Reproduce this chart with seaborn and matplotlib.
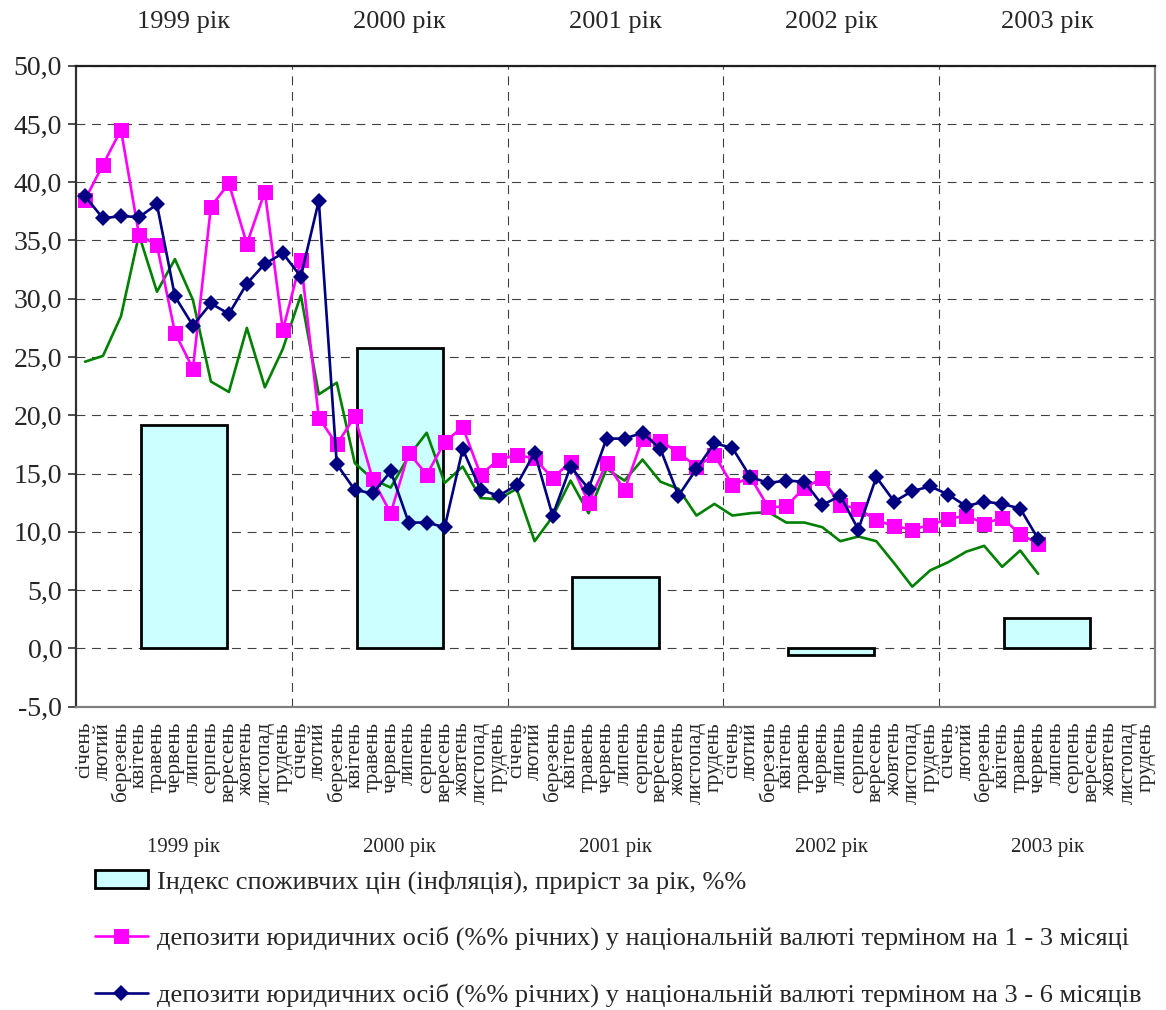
import numpy as np
import matplotlib
matplotlib.use("Agg")
import matplotlib.pyplot as plt
import matplotlib.transforms as mtransforms
from matplotlib.ticker import FuncFormatter, MultipleLocator, FixedLocator
from matplotlib.lines import Line2D
from matplotlib.patches import Patch
import seaborn as sns

# ---- data -------------------------------------------------------------
months = ["січень", "лютий", "березень", "квітень", "травень", "червень",
          "липень", "серпень", "вересень", "жовтень", "листопад", "грудень"]
years = ["1999 рік", "2000 рік", "2001 рік", "2002 рік", "2003 рік"]

# consumer price index, growth over the year, %
cpi_growth = [19.2, 25.8, 6.1, -0.6, 2.6]

# corporate deposits in national currency, 1-3 months (% p.a.)
dep_1_3 = [38.5, 41.5, 44.5, 35.5, 34.6, 27.1, 24.0, 37.9, 39.9, 34.7, 39.2, 27.3,
           33.3, 19.8, 17.5, 19.9, 14.5, 11.6, 16.8, 14.9, 17.7, 19.0, 14.9, 16.2,
           16.6, 16.3, 14.6, 16.0, 12.5, 15.9, 13.6, 18.0, 17.8, 16.8, 15.6, 16.6,
           14.0, 14.7, 12.1, 12.2, 13.8, 14.6, 12.3, 12.0, 11.0, 10.5, 10.2, 10.6,
           11.1, 11.4, 10.7, 11.2, 9.8, 9.0]

# corporate deposits in national currency, 3-6 months (% p.a.)
dep_3_6 = [38.8, 36.9, 37.1, 37.0, 38.1, 30.2, 27.7, 29.6, 28.7, 31.3, 33.0, 33.9,
           31.9, 38.4, 15.8, 13.6, 13.3, 15.2, 10.8, 10.8, 10.4, 17.1, 13.6, 13.1,
           14.0, 16.8, 11.4, 15.6, 13.7, 18.0, 18.0, 18.5, 17.1, 13.1, 15.4, 17.6,
           17.2, 14.7, 14.2, 14.4, 14.3, 12.3, 13.1, 10.2, 14.7, 12.6, 13.5, 13.9,
           13.2, 12.2, 12.6, 12.4, 12.0, 9.4]

# third deposit rate series (green line)
rate_green = [24.6, 25.1, 28.5, 35.5, 30.6, 33.4, 29.9, 22.9, 22.0, 27.5, 22.4, 25.7,
              30.3, 21.8, 22.8, 15.9, 14.5, 13.8, 16.5, 18.5, 14.2, 15.6, 12.9, 12.8,
              13.7, 9.2, 11.3, 14.4, 11.6, 15.4, 14.4, 16.2, 14.3, 13.7, 11.4, 12.4,
              11.4, 11.6, 11.7, 10.8, 10.8, 10.4, 9.2, 9.6, 9.2, 7.3, 5.3, 6.7,
              7.4, 8.3, 8.8, 7.0, 8.4, 6.4]

legend_labels = [
    "Індекс споживчих цін (інфляція), приріст за рік, %%",
    "депозити юридичних осіб (%% річних) у національній валюті терміном на 1 - 3 місяці",
    "депозити юридичних осіб (%% річних) у національній валюті терміном на 3 - 6 місяців",
]

# ---- style ------------------------------------------------------------
sns.set_style("white")
plt.rcParams["font.family"] = ["Liberation Serif", "DejaVu Serif"]

fig = plt.figure(figsize=(11.66, 10.10), dpi=100)
ax = fig.add_axes([0.0652, 0.3003, 0.9254, 0.6347])

n_years = len(years)
month_labels = months * n_years
bar_x = np.arange(n_years) * 12 + 5.5

# yearly inflation bars
ax.bar(bar_x, cpi_growth, width=4.8, color="#CCFFFF", edgecolor="black",
       linewidth=2.0, zorder=2)

x_idx = np.arange(len(dep_1_3))
sns.lineplot(x=x_idx, y=rate_green, ax=ax, color="#008000", linewidth=1.9,
             zorder=3, legend=False)
sns.lineplot(x=x_idx, y=dep_1_3, ax=ax, color="#FF00FF", linewidth=1.9,
             marker="s", markersize=10.8, markeredgewidth=0, zorder=4,
             legend=False)
sns.lineplot(x=x_idx, y=dep_3_6, ax=ax, color="#000080", linewidth=1.9,
             marker="D", markersize=8.2, markeredgewidth=0, zorder=5,
             legend=False)

# ---- axes -------------------------------------------------------------
ax.set_xlim(-0.5, len(month_labels) - 0.5)
ax.set_ylim(-5, 50)
ax.yaxis.set_major_locator(MultipleLocator(5))
ax.yaxis.set_major_formatter(FuncFormatter(lambda v, p: f"{v:.1f}".replace(".", ",")))
ax.set_xticks(np.arange(len(month_labels)))
ax.set_xticklabels(month_labels, rotation=90, fontsize=15.3, va="top", ha="center")
ax.xaxis.set_minor_locator(FixedLocator(np.arange(1, n_years) * 12 - 0.5))
ax.tick_params(axis="x", which="both", length=0, pad=11)
ax.tick_params(axis="y", which="major", length=6, width=1.2, color="#303030",
               direction="out", labelsize=20, pad=4, left=True)
ax.set_xlabel("")
ax.set_ylabel("")

ax.set_axisbelow(True)
ax.grid(axis="y", which="major", color="#404040", linewidth=0.8,
        linestyle=(0, (8, 6)))
ax.grid(axis="x", which="minor", color="#404040", linewidth=0.8,
        linestyle=(0, (8, 6)))
ax.grid(axis="x", which="major", visible=False)

for side, col in (("left", "#303030"), ("top", "#202020"),
                  ("bottom", "#808080"), ("right", "#808080")):
    ax.spines[side].set_visible(True)
    ax.spines[side].set_color(col)
    ax.spines[side].set_linewidth(1.6)

# year captions above and below the plot
trans = mtransforms.blended_transform_factory(ax.transData, fig.transFigure)
for xc, yr in zip(bar_x, years):
    ax.text(xc, 0.978, yr, transform=trans, ha="center", va="center", fontsize=19)
    ax.text(xc, 0.1605, yr, transform=trans, ha="center", va="center", fontsize=15)

# ---- legend -----------------------------------------------------------
handles = [
    Patch(facecolor="#CCFFFF", edgecolor="black", linewidth=2.0),
    Line2D([0], [0], color="#FF00FF", linewidth=1.9, marker="s",
           markersize=10.8, markeredgewidth=0),
    Line2D([0], [0], color="#000080", linewidth=1.9, marker="D",
           markersize=8.2, markeredgewidth=0),
]
fig.legend(handles, legend_labels, loc="upper left",
           bbox_to_anchor=(0.0815, 0.139), frameon=False, fontsize=19,
           handlelength=2.0, handletextpad=0.35, labelspacing=1.25,
           borderaxespad=0, borderpad=0)

fig.savefig("out.png", dpi=100)
